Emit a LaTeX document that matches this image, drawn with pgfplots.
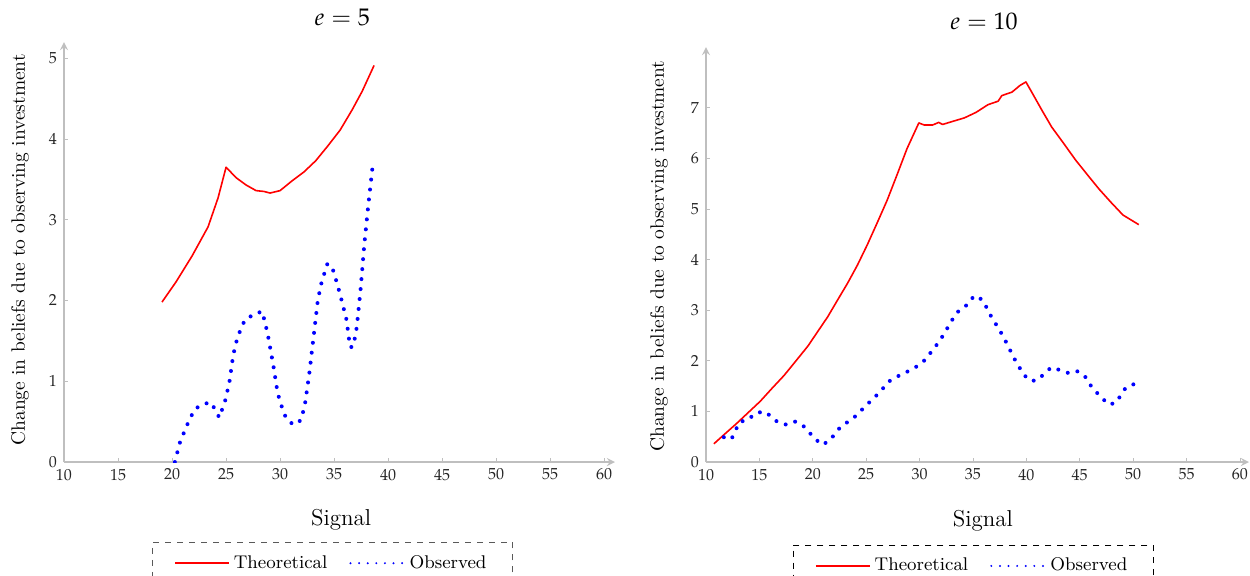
\documentclass[border=0pt]{standalone}
\usepackage{mathpazo}
\usepackage{pgfplots}
\pgfplotsset{compat=1.18}

\pgfplotstableread{
x y
19.07 1.98
20.37 2.23
21.85 2.55
23.33 2.91
24.26 3.27
25.00 3.65
25.93 3.52
26.85 3.43
27.78 3.36
28.50 3.35
29.07 3.33
30.00 3.36
31.10 3.48
32.20 3.59
33.30 3.73
34.40 3.91
35.56 4.11
36.67 4.36
37.60 4.59
38.70 4.91
}\theoA

\pgfplotstableread{
x y
20.26 0.00
20.70 0.23
21.33 0.44
22.07 0.65
22.74 0.71
23.56 0.74
24.00 0.65
24.37 0.55
24.90 0.75
25.30 0.98
25.67 1.33
26.07 1.55
26.74 1.76
27.20 1.80
27.78 1.82
28.26 1.87
28.56 1.76
28.90 1.55
29.37 1.20
29.78 0.85
30.26 0.64
30.60 0.53
31.26 0.46
31.96 0.52
32.33 0.74
32.70 1.09
33.10 1.55
33.50 2.01
33.85 2.23
34.37 2.45
34.78 2.43
35.30 2.20
35.74 1.98
36.15 1.76
36.48 1.42
36.78 1.43
37.10 1.67
37.44 2.12
37.80 2.70
38.15 3.16
38.63 3.74
}\obsA

\pgfplotstableread{
x y
10.74 0.36
11.74 0.55
12.86 0.76
13.97 0.98
15.08 1.20
16.20 1.46
17.31 1.71
18.43 2.00
19.54 2.29
20.47 2.58
21.40 2.87
22.32 3.20
23.25 3.53
24.18 3.89
25.10 4.29
26.04 4.73
26.96 5.17
27.90 5.68
28.82 6.19
29.93 6.70
30.42 6.66
31.23 6.66
31.79 6.71
32.16 6.67
33.09 6.73
34.20 6.80
35.30 6.91
36.40 7.06
37.36 7.13
37.70 7.24
38.66 7.31
39.40 7.44
39.96 7.51
40.50 7.31
41.46 6.95
42.37 6.62
43.48 6.30
44.60 5.97
45.70 5.68
46.82 5.39
47.93 5.13
49.05 4.88
50.53 4.69
}\theoB

\pgfplotstableread{
x y
11.67 0.49
12.38 0.45
12.75 0.62
13.15 0.79
13.97 0.84
14.60 0.96
15.42 1.00
16.12 0.90
16.75 0.78
17.50 0.74
18.31 0.80
19.00 0.74
19.60 0.60
20.17 0.47
20.84 0.34
21.51 0.41
22.06 0.55
22.58 0.69
23.33 0.80
24.03 0.91
24.63 1.04
25.30 1.18
25.89 1.30
26.48 1.43
27.04 1.58
27.74 1.67
28.49 1.75
29.30 1.83
30.04 1.93
30.68 2.05
31.16 2.20
31.70 2.34
32.20 2.50
32.64 2.66
33.09 2.82
33.53 2.96
34.28 3.07
34.80 3.22
35.32 3.29
35.98 3.18
36.39 3.00
36.80 2.84
37.25 2.69
37.70 2.53
38.10 2.37
38.50 2.20
38.88 2.04
39.32 1.88
39.77 1.72
40.44 1.60
41.07 1.62
41.70 1.75
42.33 1.87
43.10 1.82
43.92 1.76
44.70 1.80
45.44 1.71
45.89 1.55
46.45 1.40
47.00 1.29
47.64 1.14
48.31 1.16
48.83 1.31
49.31 1.47
50.09 1.54
}\obsB

\definecolor{axgray}{gray}{0.75}

\pgfplotsset{
  common/.style={
    scale only axis,
    axis lines=left,
    axis line style={axgray, line width=0.8pt, -stealth},
    tick style={axgray, line width=0.4pt},
    major tick length=2pt,
    tick align=inside,
    ymin=0, xmin=10,
    xtick={10,15,...,60},
    tick label style={font=\fontsize{8}{9}\selectfont, text=black!85},
    xlabel={Signal},
    ylabel={Change in beliefs due to observing investment},
    xlabel style={font=\fontsize{11.5}{13}\selectfont, anchor=center},
    ylabel style={font=\fontsize{9.7}{11}\selectfont, anchor=center},
    title style={font=\fontsize{12}{14}\selectfont, anchor=center},
    legend columns=2,
    legend cell align=left,
    legend style={font=\fontsize{9.2}{10}\selectfont, anchor=north,
      inner xsep=11pt, inner ysep=4.5pt,
      /tikz/every even column/.append style={column sep=9pt}},
    legend image code/.code={\draw[##1] (0pt,0pt) -- (27pt,0pt);},
    theo/.style={red, solid, line width=0.8pt, line join=round},
    obs/.style={blue, line width=2pt, line cap=round, dash pattern=on 0pt off 5pt,
      legend image post style={line width=1.1pt, dash pattern=on 0pt off 4.3pt}},
  }
}

\begin{document}
\begin{tikzpicture}
\useasboundingbox (-32pt,-56.5pt) rectangle (593pt,231pt);
\begin{axis}[common,
  at={(0pt,0pt)}, anchor=south west,
  width=275.5pt, height=210pt,
  xmax=61, ymax=5.2,
  ytick={0,1,2,3,4,5},
  title={$e=5$},
  title style={at={(0.505,1.029)}},
  xlabel style={at={(0.503,-0.138)}},
  ylabel style={at={(-0.080,0.505)}},
  legend style={at={(0.487,-0.19)}, draw=black!65, dashed},
]
\addplot[theo] table[x=x,y=y] {\theoA};
\addlegendentry{Theoretical}
\addplot[obs] table[x=x,y=y] {\obsA};
\addlegendentry{Observed}
\end{axis}
\begin{axis}[common,
  at={(321pt,0pt)}, anchor=south west,
  width=271.5pt, height=207.5pt,
  xmax=60.85, ymax=8.2,
  ytick={0,1,2,3,4,5,6,7},
  title={$e=10$},
  title style={at={(0.512,1.032)}},
  xlabel style={at={(0.510,-0.142)}},
  ylabel style={at={(-0.0866,0.496)}},
  legend style={at={(0.492,-0.199)}, draw=black, dashed},
]
\addplot[theo] table[x=x,y=y] {\theoB};
\addlegendentry{Theoretical}
\addplot[obs] table[x=x,y=y] {\obsB};
\addlegendentry{Observed}
\end{axis}
\end{tikzpicture}
\end{document}
